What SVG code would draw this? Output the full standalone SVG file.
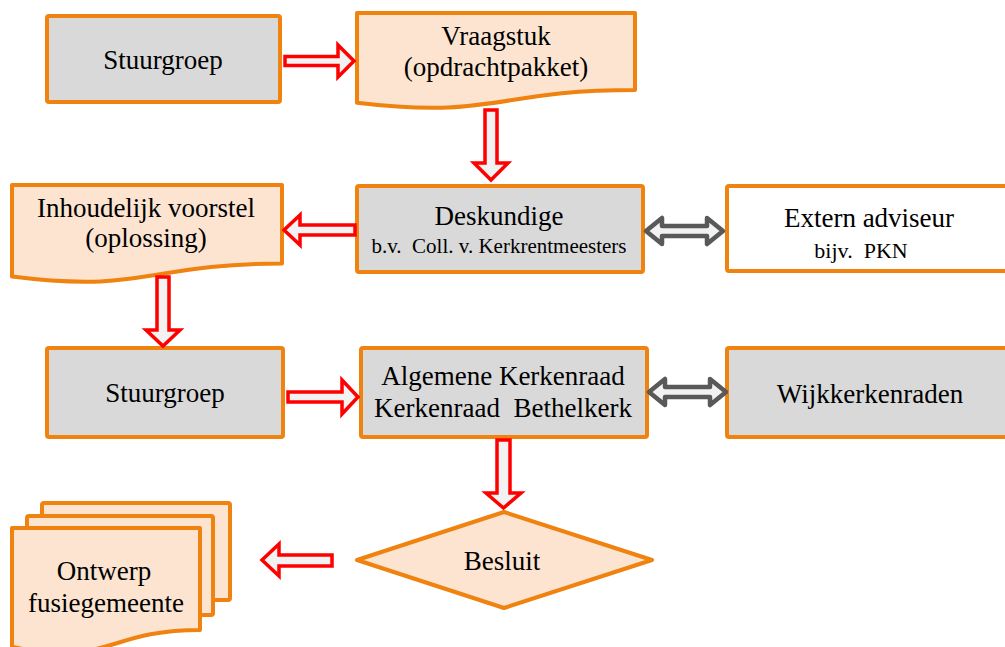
<svg xmlns="http://www.w3.org/2000/svg" width="1005" height="647" viewBox="0 0 1005 647">
<style>
.box{fill:#D9D9D9;stroke:#F0820F;stroke-width:4;stroke-linejoin:round}
.doc{fill:#FCE4D0;stroke:#F0820F;stroke-width:4;stroke-linejoin:round}
.wbox{fill:#FFFFFF;stroke:#F0820F;stroke-width:4;stroke-linejoin:round}
.ra{fill:#F2F2F2;stroke:#FF0000;stroke-width:3.5;stroke-linejoin:miter}
.ga{fill:#F2F2F2;stroke:#595959;stroke-width:4.5;stroke-linejoin:round}
text{font-family:"Liberation Serif","Times New Roman",serif;fill:#000;text-anchor:middle}
.t{font-size:27px}
.s{font-size:21px}
.s2{font-size:22px}
</style>
<rect width="1005" height="647" fill="#FFFFFF"/>
<g id="n-stuurgroep1">
<rect class="box" x="47" y="16" width="233" height="86" rx="2"/>
<text class="t" x="163" y="69">Stuurgroep</text>
</g>
<g id="n-vraagstuk">
<path class="doc" d="M357,13 H635 V90 C496,90 496,119.3 357,102.7 Z"/>
<text class="t" x="496" y="45">Vraagstuk</text>
<text class="t" x="496" y="76">(opdrachtpakket)</text>
</g>
<g id="n-deskundige">
<rect class="box" x="357" y="186" width="286" height="86" rx="2"/>
<text class="t" x="499" y="225">Deskundige</text>
<text class="s" x="499" y="253" xml:space="preserve">b.v.  Coll. v. Kerkrentmeesters</text>
</g>
<g id="n-extern">
<rect class="wbox" x="727" y="186" width="290" height="85" rx="2"/>
<text class="t" x="869" y="227">Extern adviseur</text>
<text class="s2" x="861" y="258" xml:space="preserve">bijv.  PKN</text>
</g>
<g id="n-inhoudelijk">
<path class="doc" d="M12,185 H282 V263.6 C147,263.6 147,293.5 12,276.5 Z"/>
<text class="t" x="146" y="217">Inhoudelijk voorstel</text>
<text class="t" x="146" y="247">(oplossing)</text>
</g>
<g id="n-stuurgroep2">
<rect class="box" x="47" y="348" width="236" height="89" rx="2"/>
<text class="t" x="165" y="402">Stuurgroep</text>
</g>
<g id="n-algemene">
<rect class="box" x="361" y="348" width="286" height="89" rx="2"/>
<text class="t" x="503" y="385">Algemene Kerkenraad</text>
<text class="t" x="503" y="417" xml:space="preserve">Kerkenraad  Bethelkerk</text>
</g>
<g id="n-wijk">
<rect class="box" x="727" y="348" width="290" height="89" rx="2"/>
<text class="t" x="870" y="403">Wijkkerkenraden</text>
</g>
<g id="n-besluit">
<path class="doc" d="M504,512 L652,560 L504,608 L357,560 Z"/>
<text class="t" x="502" y="570">Besluit</text>
</g>
<g id="n-ontwerp">
<rect class="doc" x="42" y="503" width="188" height="97" rx="2"/>
<rect class="doc" x="27" y="516" width="186" height="99" rx="2"/>
<path class="doc" d="M12,528 H200 V629.9 C106,629.9 106,668.6 12,646.6 Z"/>
<text class="t" x="104" y="580">Ontwerp</text>
<text class="t" x="106" y="612">fusiegemeente</text>
</g>
<g id="connectors">
<path class="ra" d="M285,56.5 H338 V45 L354,61 L338,77 V65.5 H285 Z"/>
<path class="ra" d="M485,110 H497 V163 H508 L491,180 L474,163 H485 Z"/>
<path class="ra" d="M355,225 H300 V215 L284,230 L300,245 V235 H355 Z"/>
<path class="ra" d="M157,277 H169 V330 H180 L163,346 L146,330 H157 Z"/>
<path class="ra" d="M288,392 H342 V380 L358,397 L342,414 V402 H288 Z"/>
<path class="ra" d="M497,440 H510 V493 H521 L503.5,508 L486,493 H497 Z"/>
<path class="ra" d="M332,555 H279 V544 L262,560 L279,576 V566 H332 Z"/>
<path class="ga" d="M646,231 L662,218 V226 H707 V218 L723,231 L707,244 V236 H662 V244 Z"/>
<path class="ga" d="M649,392 L665,379 V387 H710 V379 L726,392 L710,405 V397 H665 V405 Z"/>
</g>
</svg>
